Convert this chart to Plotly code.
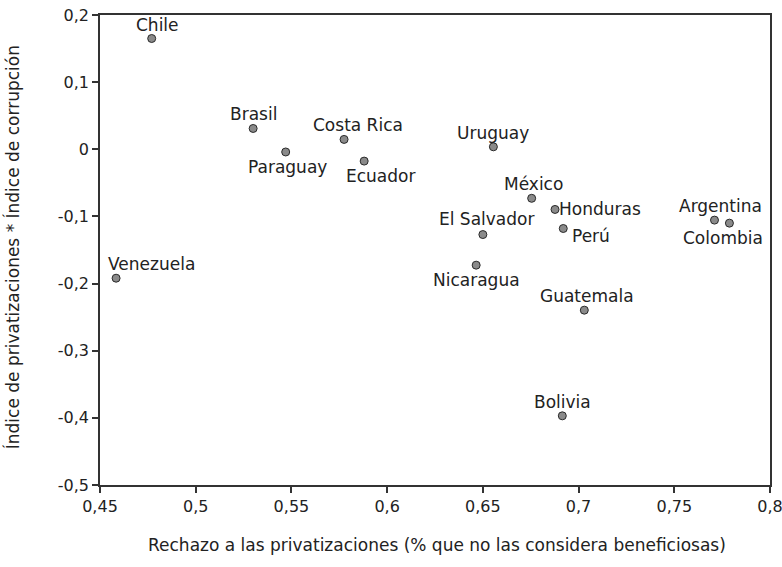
import plotly.graph_objects as go

# Rechazo a las privatizaciones vs. índice combinado privatizaciones*corrupción
paises = ["Chile", "Brasil", "Paraguay", "Costa Rica", "Ecuador", "Uruguay",
          "México", "Honduras", "Perú", "El Salvador", "Nicaragua", "Guatemala",
          "Argentina", "Colombia", "Bolivia", "Venezuela"]
rechazo = [0.477, 0.530, 0.547, 0.5775, 0.588, 0.6555,
           0.6755, 0.6877, 0.692, 0.650, 0.6465, 0.703,
           0.771, 0.7788, 0.6915, 0.4584]
indice = [0.165, 0.031, -0.004, 0.0147, -0.0176, 0.0037,
          -0.073, -0.0896, -0.118, -0.127, -0.1726, -0.2396,
          -0.1055, -0.110, -0.397, -0.192]

x_ticks = [0.45, 0.5, 0.55, 0.6, 0.65, 0.7, 0.75, 0.8]
x_tick_text = ["0,45", "0,5", "0,55", "0,6", "0,65", "0,7", "0,75", "0,8"]
y_ticks = [-0.5, -0.4, -0.3, -0.2, -0.1, 0, 0.1, 0.2]
y_tick_text = ["-0,5", "-0,4", "-0,3", "-0,2", "-0,1", "0", "0,1", "0,2"]

# label placement per country: (xanchor, yanchor, xshift, yshift)
placement = {
    "Chile": ("center", "bottom", 6, 2),
    "Brasil": ("center", "bottom", 0, 2),
    "Paraguay": ("center", "top", 2, -3),
    "Costa Rica": ("center", "bottom", 14, 2),
    "Ecuador": ("center", "top", 16, -3),
    "Uruguay": ("center", "bottom", 0, 2),
    "México": ("center", "bottom", 2, 2),
    "Honduras": ("left", "middle", 2, 0),
    "Perú": ("left", "top", 7, 5),
    "El Salvador": ("center", "bottom", 4, 4),
    "Nicaragua": ("center", "top", 0, -3),
    "Guatemala": ("center", "bottom", 3, 2),
    "Argentina": ("center", "bottom", 6, 2),
    "Colombia": ("center", "top", -6, -3),
    "Bolivia": ("center", "bottom", 0, 2),
    "Venezuela": ("left", "bottom", -10, 2),
}

font_family = "DejaVu Sans, Verdana, sans-serif"
text_color = "#222222"

fig = go.Figure()
fig.add_trace(go.Scatter(
    x=rechazo, y=indice, mode="markers",
    marker=dict(size=8, color="#8a8a8a", line=dict(color="#2a2a2a", width=1)),
    hoverinfo="text", text=paises, showlegend=False,
))

for p, xv, yv in zip(paises, rechazo, indice):
    xa, ya, xs, ys = placement[p]
    fig.add_annotation(x=xv, y=yv, text=p, showarrow=False,
                       xanchor=xa, yanchor=ya, xshift=xs, yshift=ys,
                       font=dict(family=font_family, size=17, color=text_color))

# axis titles
fig.add_annotation(xref="paper", yref="paper", x=0.503, y=-0.128,
                   text="Rechazo a las privatizaciones (% que no las considera beneficiosas)",
                   showarrow=False, xanchor="center", yanchor="middle",
                   font=dict(family=font_family, size=17, color=text_color))
fig.add_annotation(xref="paper", yref="paper", x=-0.1313, y=0.506,
                   text="Índice de privatizaciones * Índice de corrupción",
                   showarrow=False, textangle=-90, xanchor="center", yanchor="middle",
                   font=dict(family=font_family, size=17, color=text_color))

axis_common = dict(
    showline=True, linecolor="#333333", linewidth=1.5, mirror=True,
    ticks="outside", ticklen=6, tickcolor="#333333", tickwidth=1.5,
    showgrid=False, zeroline=False, automargin=False,
    ticklabeloverflow="allow",
    tickfont=dict(family=font_family, size=16, color=text_color),
)

fig.update_layout(
    width=782, height=567,
    margin=dict(l=100, r=12, t=15, b=82),
    paper_bgcolor="white", plot_bgcolor="white",
    xaxis=dict(range=[0.45, 0.8], tickvals=x_ticks, ticktext=x_tick_text, **axis_common),
    yaxis=dict(range=[-0.5, 0.2], tickvals=y_ticks, ticktext=y_tick_text, **axis_common),
)

fig.write_html("out.html")
